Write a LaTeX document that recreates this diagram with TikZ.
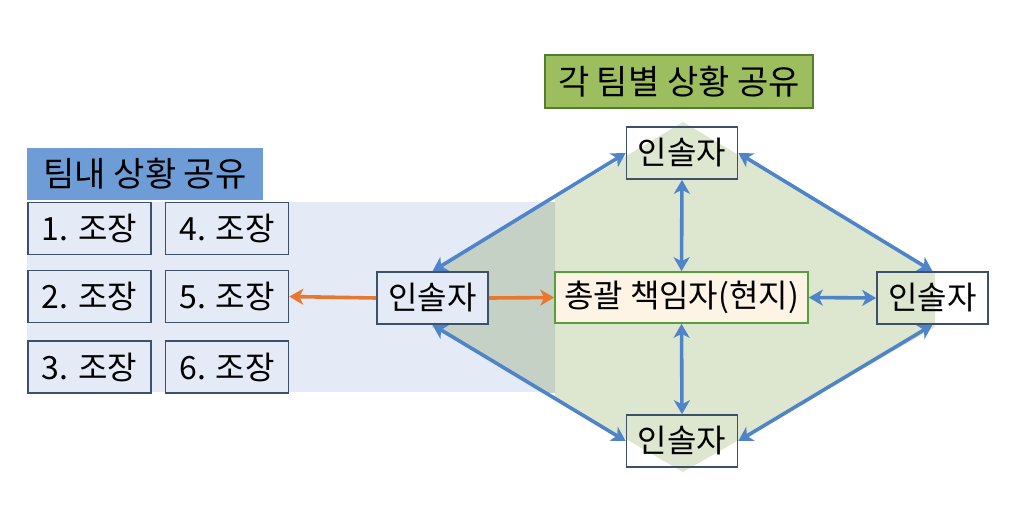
\documentclass[tikz,border=0pt]{standalone}
\usepackage{fontspec}
\setmainfont{Noto Sans CJK KR}
\usetikzlibrary{arrows.meta,calc}
\definecolor{bandblue}{RGB}{228,235,246}
\definecolor{lightgreen}{RGB}{221,230,207}
\definecolor{darkgreen}{RGB}{197,209,196}
\definecolor{slate}{RGB}{60,80,105}
\definecolor{titlegreen}{RGB}{157,190,95}
\definecolor{titleborder}{RGB}{84,125,45}
\definecolor{headblue}{RGB}{110,156,214}
\definecolor{cream}{RGB}{253,244,230}
\definecolor{boxgreen}{RGB}{85,160,60}
\definecolor{arrowblue}{RGB}{80,132,200}
\definecolor{arroworange}{RGB}{232,120,48}
\tikzset{
  x=0.5pt, y=-0.5pt,
  basebox/.style={draw=slate, line width=0.8pt, inner sep=0pt, align=center},
  leader/.style={basebox, minimum width=55.5pt, minimum height=26pt, font=\fontsize{16}{18}\selectfont},
  chief/.style={basebox, draw=boxgreen, fill=cream, minimum width=126.5pt, minimum height=25.5pt, font=\fontsize{16}{18}\selectfont},
  captain/.style={basebox, fill=bandblue, minimum width=61.5pt, minimum height=26pt, font=\fontsize{16}{18}\selectfont},
  titlebox/.style={basebox, draw=titleborder, fill=titlegreen, minimum width=134pt, minimum height=26.5pt, font=\fontsize{17}{19}\selectfont},
  headbox/.style={inner sep=0pt, fill=headblue, minimum width=118pt, minimum height=26pt, font=\fontsize{17}{19}\selectfont},
  tip/.tip={Stealth[length=7pt,width=8pt,inset=2pt]},
  bluearrow/.style={draw=arrowblue, line width=1.8pt, tip-tip},
  orangearrow/.style={draw=arroworange, line width=1.8pt, -tip}
}
\begin{document}
\begin{tikzpicture}
\useasboundingbox (0,0) rectangle (1023,521);
% background band
\fill[bandblue] (27,202) rectangle (555,392);
% green hexagon, right part
\begin{scope}
  \clip (555,0) rectangle (1023,521);
  \fill[lightgreen] (432,272) -- (683,122) -- (935,272) -- (935,327) -- (683,472) -- (432,327) -- cycle;
\end{scope}
% overlap with band
\begin{scope}
  \clip (27,202) rectangle (555,392);
  \fill[darkgreen] (432,272) -- (683,122) -- (935,272) -- (935,327) -- (683,472) -- (432,327) -- cycle;
\end{scope}

% titles
\node[titlebox] (title) at (679,81.5) {각 팀별 상황 공유};
\node[headbox] (head) at (145,174) {팀내 상황 공유};

% captains
\node[captain] (c1) at (89.5,228.5) {1. 조장};
\node[captain] (c2) at (89.5,296.5) {2. 조장};
\node[captain] (c3) at (89.5,367) {3. 조장};
\node[captain] (c4) at (227,228.5) {4. 조장};
\node[captain] (c5) at (227,296.5) {5. 조장};
\node[captain] (c6) at (227,367) {6. 조장};

% leaders
\node[leader] (top) at (682,153) {인솔자};
\node[leader, fill=bandblue] (left) at (432.5,298) {인솔자};
\node[leader] (right) at (932.5,298) {인솔자};
\node[leader] (bottom) at (682,441) {인솔자};
\node[chief] (chief) at (681.5,297.5) {총괄 책임자(현지)};

% arrows
\draw[orangearrow] (left.west) -- (c5.east);
\draw[orangearrow] (left.east) -- (chief.west);
\draw[bluearrow] (top.south) -- (chief.north);
\draw[bluearrow] (chief.south) -- (bottom.north);
\draw[bluearrow] (chief.east) -- (right.west);
\draw[bluearrow] (top.west) -- (left.north);
\draw[bluearrow] (top.east) -- (right.north);
\draw[bluearrow] (left.south) -- (bottom.west);
\draw[bluearrow] (bottom.east) -- (right.south);
\end{tikzpicture}
\end{document}
